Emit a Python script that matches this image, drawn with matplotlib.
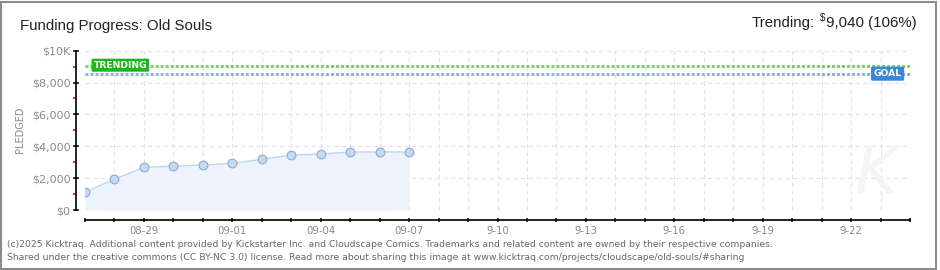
import matplotlib
matplotlib.use("Agg")
import matplotlib.pyplot as plt
from matplotlib.patches import Rectangle
import pandas as pd

# ---- data ----
dates = ["2025-08-27", "2025-08-28", "2025-08-29", "2025-08-30", "2025-08-31", "2025-09-01",
         "2025-09-02", "2025-09-03", "2025-09-04", "2025-09-05", "2025-09-06", "2025-09-07"]
pledged = [1110, 1930, 2680, 2760, 2820, 2930, 3180, 3450, 3510, 3640, 3640, 3640]
trending_value = 9040
goal_value = 8528
x_start = "2025-08-27"
x_end = "2025-09-24"
xtick_label_dates = ["2025-08-29", "2025-09-01", "2025-09-04", "2025-09-07", "2025-09-10",
                     "2025-09-13", "2025-09-16", "2025-09-19", "2025-09-22"]
xtick_labels = ["08-29", "09-01", "09-04", "09-07", "9-10", "9-13", "9-16", "9-19", "9-22"]
ytick_values = [0, 2000, 4000, 6000, 8000, 10000]
ytick_labels = ["$0", "$2,000", "$4,000", "$6,000", "$8,000", "$10K"]
yminor_values = [1000, 3000, 5000, 7000, 9000]
title = "Funding Progress: Old Souls"
footer1 = ("(c)2025 Kicktraq. Additional content provided by Kickstarter Inc. and Cloudscape Comics. "
           "Trademarks and related content are owned by their respective companies.")
footer2 = ("Shared under the creative commons (CC BY-NC 3.0) license. Read more about sharing this image "
           "at www.kicktraq.com/projects/cloudscape/old-souls/#sharing")

narrow = "Liberation Sans"

W, H = 940, 270
fig = plt.figure(figsize=(W / 100, H / 100), dpi=100)
fig.patch.set_facecolor("white")

def px(x, y):
    return (x / W, 1 - y / H)

left, right, top, bottom = 85, 910, 50.7, 210
ax = fig.add_axes([left / W, 1 - bottom / H, (right - left) / W, (bottom - top) / H])
ax.set_facecolor("white")

d = pd.to_datetime(dates)
x0 = pd.Timestamp(x_start)
x1 = pd.Timestamp(x_end)

ax.set_xlim(x0, x1)
ax.set_ylim(0, 10000)

# grid
ax.set_axisbelow(True)
all_days = pd.date_range(x0, x1, freq="D")
ax.set_xticks(all_days)
ax.set_xticklabels([""] * len(all_days))
for t in all_days[1:]:
    ax.axvline(t, color="#e2e2e2", lw=0.8, ls=(0, (4, 3)), zorder=0)
for v in ytick_values:
    ax.axhline(v, color="#e2e2e2", lw=0.8, ls=(0, (4, 3)), zorder=0)

# data
ax.fill_between(d, pledged, 0, color="#edf3fc", zorder=1, lw=0)
ax.plot(d, pledged, color="#bcd5f2", lw=1.0, zorder=2)
ax.plot(d, pledged, ls="none", marker="o", ms=6.3, mfc="#c2daf6", mec="#93abc9", mew=0.8, zorder=3)

# trending / goal lines
ax.plot([x0, x1], [trending_value, trending_value], color="#74d866", lw=2.16, ls=(0, (1, 0.67)), zorder=2)
ax.plot([x0, x1], [goal_value, goal_value], color="#8fb4e2", lw=2.16, ls=(0, (1, 0.67)), zorder=2)

ax.text(x0 + pd.Timedelta(days=1.2), 9090, "TRENDING", color="white", fontsize=6.6, fontweight="bold",
        ha="center", va="center", zorder=5,
        bbox=dict(boxstyle="round,pad=0.22,rounding_size=0.15", fc="#1bb81b", ec="none"))
ax.text(x0 + pd.Timedelta(days=27.24), 8560, "GOAL", color="white", fontsize=6.6, fontweight="bold",
        ha="center", va="center", zorder=5,
        bbox=dict(boxstyle="round,pad=0.28,rounding_size=0.15", fc="#3b87d9", ec="none"))

# watermark
fig.text(*px(876, 175), "K", fontsize=48, fontstyle="italic", color="#f5f5f5",
         ha="center", va="center", zorder=0)

# spines
for s in ["top", "right"]:
    ax.spines[s].set_visible(False)
ax.spines["left"].set_position(("outward", 6.5))
ax.spines["bottom"].set_position(("outward", 7.2))
ax.spines["left"].set_linewidth(1.2)
ax.spines["bottom"].set_linewidth(1.2)

ax.set_yticks(ytick_values)
ax.set_yticklabels(ytick_labels)
ax.set_yticks(yminor_values, minor=True)
ax.tick_params(axis="y", which="major", direction="inout", length=4, width=1.1, color="black",
               labelsize=8, labelcolor="#8a8a8a", pad=2)
ax.tick_params(axis="y", which="minor", direction="out", length=2.4, width=1.1, color="#ee0000")
ax.tick_params(axis="x", which="major", direction="inout", length=3.2, width=1.1, color="black")

for t, lab in zip(pd.to_datetime(xtick_label_dates), xtick_labels):
    ax.annotate(lab, xy=(t, 0), xycoords=("data", "axes fraction"), xytext=(0, -11.5),
                textcoords="offset points", ha="center", va="top", fontsize=7.3, color="#8a8a8a")

fig.text(*px(20, 130), "PLEDGED", rotation=90, fontsize=7, color="#8a8a8a", ha="center",
         va="center")

# title & trending
fig.text(*px(20, 30), title, fontsize=10.8, family=narrow, color="#222222", ha="left",
         va="baseline")

fig.canvas.draw()
r = fig.canvas.get_renderer()
t3 = fig.text(*px(917, 27.3), "9,040 (106%)", fontsize=10.8, family=narrow, color="#222222",
              ha="right", va="baseline")
bb = t3.get_window_extent(r)
xs = bb.x0 - 1
t2 = fig.text(xs / W, 1 - 21 / H, "$", fontsize=7, family=narrow, color="#222222", ha="right",
              va="baseline")
bb2 = t2.get_window_extent(r)
fig.text((bb2.x0 - 5) / W, 1 - 27.3 / H, "Trending:", fontsize=10.8, family=narrow,
         color="#222222", ha="right", va="baseline")

# footer
fig.text(*px(7, 247), footer1, fontsize=6.7, color="#666666", ha="left", va="baseline")
fig.text(*px(7, 260), footer2, fontsize=6.7, color="#666666", ha="left", va="baseline")

# border
fig.add_artist(Rectangle((0.5 / W, 1.5 / H), 935.5 / W, 267 / H, transform=fig.transFigure,
                         fill=False, ec="#8c8c8c", lw=1.5))

fig.savefig("out.png", dpi=100)
